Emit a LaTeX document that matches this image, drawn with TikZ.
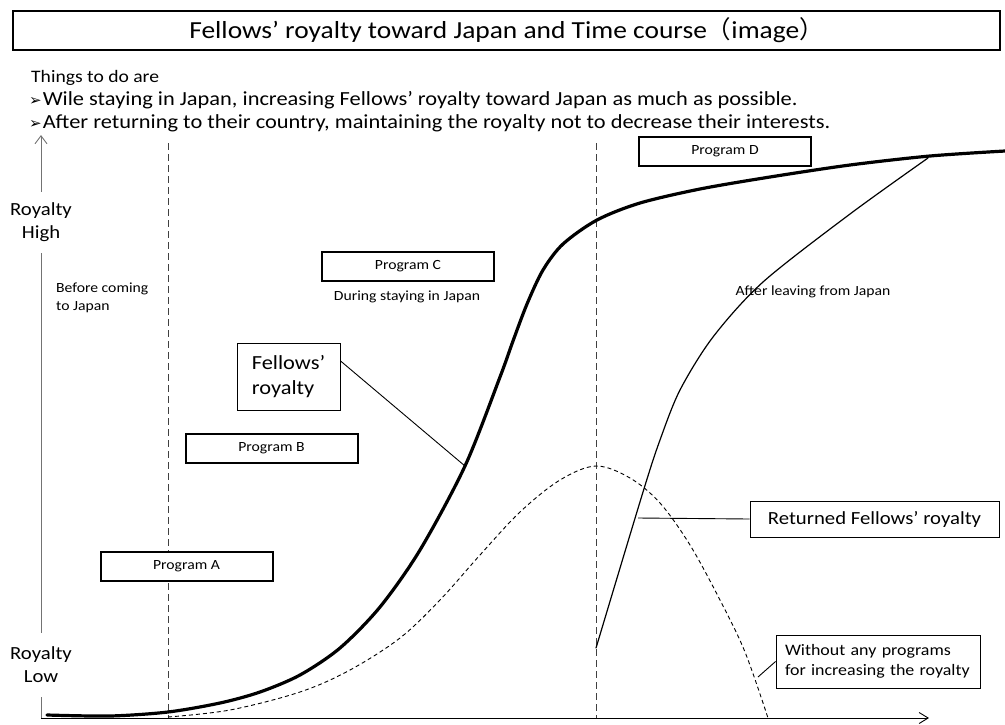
\documentclass[tikz,border=0pt]{standalone}
\usepackage{fontspec}
\setmainfont{Carlito}[FakeStretch=1.12]
\newfontfamily\dingfont{DejaVu Sans}
\newfontfamily\cjkfont{Noto Sans CJK JP}
\usetikzlibrary{arrows.meta,calc}

\tikzset{
  titlebox/.style={draw, line width=2.5pt, inner sep=0pt, minimum width=987pt, minimum height=39pt, font=\fontsize{24.5}{29}\selectfont},
  bullettext/.style={inner sep=0pt, anchor=base west, font=\fontsize{17.5}{21}\selectfont},
  aimtext/.style={bullettext, font=\fontsize{20}{23}\selectfont},
  prog/.style={draw, line width=2pt, fill=white, inner sep=0pt, minimum width=172pt, minimum height=29pt, font=\fontsize{14}{16}\selectfont},
  callout/.style={draw, line width=0.9pt, fill=white, inner sep=0pt, align=left},
  note/.style={inner sep=0pt, align=left, font=\fontsize{14}{18}\selectfont},
  axislbl/.style={inner sep=0pt, align=center, font=\fontsize{18.5}{23}\selectfont},
  yaxis/.style={draw=black!55, line width=0.9pt},
  xaxis/.style={draw=black, line width=0.9pt},
  barb/.style={-{Straight Barb[length=8pt,width=12pt]}},
  divider/.style={draw=black!75, line width=1pt, dash pattern=on 7pt off 4pt},
  mainline/.style={line width=3.2pt, line cap=round, line join=round},
  returnline/.style={line width=1.2pt, line cap=round, line join=round},
  noprogline/.style={line width=0.9pt, dash pattern=on 4pt off 3pt},
  conn/.style={draw, line width=0.9pt},
}
\newcommand\aimmark{{\dingfont\fontsize{15}{17}\selectfont ➢}\hspace{1pt}}

\begin{document}
\begin{tikzpicture}[x=1pt,y=-1pt]
\useasboundingbox (0,0) rectangle (1005,724);

% heading
\node[titlebox] (title) at (506.5,30.5)
  {Fellows’ royalty toward Japan and Time course{\cjkfont（}image{\cjkfont）}};

% aims
\node[bullettext] (aim0) at (31,82) {Things to do are};
\node[aimtext] (aim1) at (29,105)
  {\aimmark Wile staying in Japan, increasing Fellows’ royalty toward Japan as much as possible.};
\node[aimtext] (aim2) at (29,128)
  {\aimmark After returning to their country, maintaining the royalty not to decrease their interests.};

% axes
\coordinate (O) at (41,718);
\coordinate (ytop) at (41,135);
\coordinate (xend) at (929,718);
\node[axislbl, minimum height=64pt] (low) at (41,665) {Royalty\\Low};
\node[axislbl, minimum height=61pt] (high) at (41,222.5) {Royalty\\High};
\draw[yaxis] (O) -- (low.south);
\draw[yaxis] (low.north) -- (high.south);
\draw[yaxis, barb] (high.north) -- (ytop);
\draw[xaxis, -{Straight Barb[length=9pt,width=11pt]}] (O) -- (xend);

% phase boundaries
\coordinate (d1t) at (168,143);
\coordinate (d1b) at (168,718);
\coordinate (d2t) at (596,143);
\coordinate (d2b) at (596,718);
\draw[divider] (d1t) -- (d1b);
\draw[divider] (d2t) -- (d2b);

% phase labels
\node[note, anchor=west] (before) at (56,298) {Before coming\\to Japan};
\node[note] (during) at (407,297) {During staying in Japan};
\node[note] (after) at (813,292) {After leaving from Japan};

% royalty without programs
\draw[noprogline] plot[smooth, tension=0.55] coordinates {
  (168,717) (230,710) (300,692) (350,670) (400,638) (440,600)
  (480,555) (520,512) (560,480) (596,466) (630,478) (660,503)
  (690,545) (720,600) (745,652) (768,718)};

% royalty of returned fellows
\draw[returnline] plot[smooth, tension=0.5] coordinates {
  (596,648) (643,492) (660,440) (680,390) (713,337) (763,282)
  (850,214) (928,158)};

% royalty with programs
\draw[mainline] plot[smooth, tension=0.5] coordinates {
  (47,715) (110,716) (168,712) (220,703) (260,692) (300,675)
  (340,648) (380,607) (420,550) (465,466) (500,377) (513,341)
  (527,304) (543,270) (563,244) (597,220) (640,203) (700,189)
  (770,177) (850,165) (930,156) (1005,151)};

% points picked out on the curves
\coordinate (fpt) at (465,466);
\coordinate (rpt) at (638,518);
\coordinate (wpt) at (758,677);

% programs
\node[prog] (pa) at (186.5,566.5) {Program A};
\node[prog] (pb) at (271.5,448.5) {Program B};
\node[prog] (pc) at (408,266) {Program C};
\node[prog] (pd) at (725,151) {Program D};

% callouts
\node[callout, minimum width=103pt, minimum height=67pt, font=\fontsize{20}{25}\selectfont]
  (fbox) at (288.5,376.5) {Fellows’\\royalty};
\node[callout, minimum width=249pt, minimum height=36pt, font=\fontsize{18.5}{22}\selectfont]
  (rbox) at (874.5,519) {Returned Fellows’ royalty};
\node[callout, text width=186pt, inner xsep=9pt, minimum height=53pt, font=\fontsize{16}{20}\selectfont]
  (wbox) at (878,661.5) {Without any programs\\for increasing the royalty};

\draw[conn] ($(fbox.north east)!0.27!(fbox.south east)$) -- (fpt);
\draw[conn] (rbox.west) -- (rpt);
\draw[conn] (wbox.west) -- (wpt);
\end{tikzpicture}
\end{document}
